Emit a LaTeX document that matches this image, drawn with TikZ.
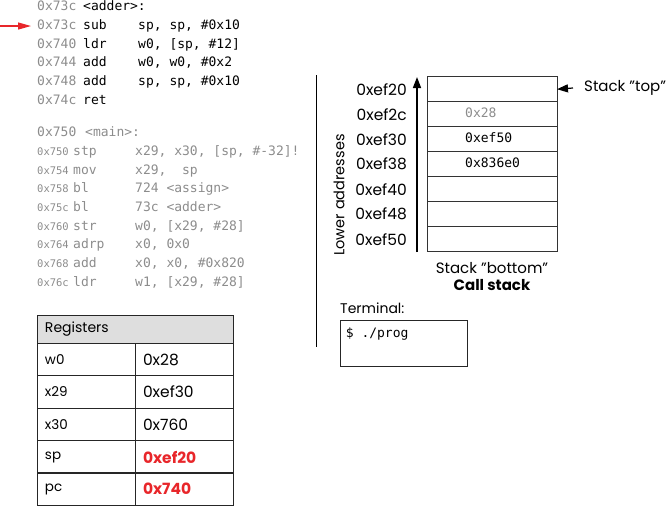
\documentclass[tikz,border=0pt]{standalone}
\usepackage{fontspec}
\setmainfont{Poppins}
\setmonofont{DejaVu Sans Mono}
\usetikzlibrary{arrows.meta,positioning}
\definecolor{addrgray}{HTML}{8C8C8C}
\definecolor{pcred}{HTML}{E8262A}
\definecolor{headgray}{HTML}{DEDEDE}
\tikzset{
  code/.style={font=\fontsize{13}{15}\selectfont\ttfamily, anchor=west, inner sep=0pt, text height=9pt, text depth=3pt},
  addr/.style={code, text=addrgray},
  smalladdr/.style={addr, font=\fontsize{10.5}{13}\selectfont\ttfamily},
  lbl/.style={font=\fontsize{14}{16}\selectfont, inner sep=0pt},
  stkaddr/.style={font=\fontsize{15.5}{17}\selectfont, inner sep=0pt},
  regcell/.style={draw=black!85, line width=0.7pt, minimum width=98pt, minimum height=32.5pt,
    text width=82pt, inner xsep=8pt, inner ysep=0pt, outer sep=0pt, align=left,
    font=\fontsize{13.5}{15}\selectfont},
  regval/.style={font=\fontsize{15.5}{17}\selectfont},
  regred/.style={text=pcred, font=\fontsize{15.5}{17}\selectfont\bfseries},
  stkcell/.style={draw=black!80, line width=0.6pt, minimum width=130pt, minimum height=25pt,
    inner sep=0pt, outer sep=0pt},
  stkval/.style={code, anchor=west},
  upar/.style={line width=1.6pt, -{Triangle[length=11pt,width=8pt]}},
  ptr/.style={line width=1.2pt, {Triangle[length=11pt,width=8pt]}-},
  pcptr/.style={line width=1.2pt, pcred, -{Triangle[length=13pt,width=7pt]}},
}
\begin{document}
\begin{tikzpicture}[x=1pt,y=-1pt]
  \useasboundingbox (0,0) rectangle (667,507);
  % adder listing
  \node[addr] (ah) at (37,7) {0x73c};
  \node[code] (ahn) at (83,7) {<adder>:};
  \foreach \yy/\ad/\mn/\op [count=\i] in {26/0x73c/sub/{sp, sp, \#0x10},
      45/0x740/ldr/{w0, [sp, \#12]}, 63.5/0x744/add/{w0, w0, \#0x2},
      82/0x748/add/{sp, sp, \#0x10}, 101/0x74c/ret/{}}{
    \node[addr] (aa\i) at (37,\yy) {\ad};
    \node[code] (am\i) at (83,\yy) {\mn};
    \node[code] (ao\i) at (138,\yy) {\op};
  }
  % current instruction
  \coordinate (pcfrom) at (0,26);
  \draw[pcptr, shorten >=6pt] (pcfrom) -- (aa1.west);
  % main listing
  \node[addr] (mh) at (37,133) {0x750};
  \node[addr] (mhn) at (85,133) {<main>:};
  \foreach \yy/\ad/\mn/\op [count=\i] in {152/0x750/stp/{x29, x30, [sp, \#-32]!},
      171/0x754/mov/{x29,\ \ sp}, 189/0x758/bl/{724 <assign>},
      208/0x75c/bl/{73c <adder>}, 227/0x760/str/{w0, [x29, \#28]},
      245/0x764/adrp/{x0, 0x0}, 264/0x768/add/{x0, x0, \#0x820},
      283/0x76c/ldr/{w1, [x29, \#28]}}{
    \node[smalladdr] (ma\i) at (37,\yy) {\ad};
    \node[addr] (mm\i) at (73,\yy) {\mn};
    \node[addr] (mo\i) at (135,\yy) {\op};
  }
  % registers
  \node[regcell, fill=headgray, minimum width=196pt, text width=180pt, minimum height=28pt,
    font=\fontsize{14}{16}\selectfont] (reghead) at (135,329) {Registers};
  \foreach \yy/\rn/\rv/\st [count=\i] in {359.5/w0/0x28/regval, 392/x29/0xef30/regval,
      424.5/x30/0x760/regval, 457/sp/0xef20/regred, 489/pc/0x740/regred}{
    \node[regcell] (rn\i) at (86,\yy) {\rn};
    \node[regcell, \st] (rv\i) at (184,\yy) {\rv};
  }
  % divider
  \coordinate (divtop) at (316,75);
  \coordinate (divbot) at (316,347);
  \draw[line width=0.9pt] (divtop) -- (divbot);
  % call stack
  \node[stkcell] (cell1) at (492,89.2) {};
  \foreach \i [count=\j from 1] in {2,...,7}{
    \node[stkcell, below=0pt of cell\j] (cell\i) {};
  }
  \foreach \i/\ad in {1/0xef20, 2/0xef2c, 3/0xef30, 4/0xef38, 5/0xef40, 6/0xef48, 7/0xef50}{
    \node[stkaddr, left=20pt of cell\i] (sa\i) {\ad};
  }
  \node[stkval, text=addrgray] (sv2) at ([xshift=38pt]cell2.west) {0x28};
  \node[stkval] (sv3) at ([xshift=38pt]cell3.west) {0xef50};
  \node[stkval] (sv4) at ([xshift=38pt]cell4.west) {0x836e0};
  \coordinate (arbot) at (417,252);
  \coordinate (artop) at (417,77);
  \draw[upar] (arbot) -- (artop);
  \node[lbl, rotate=90, font=\fontsize{14.5}{16}\selectfont] (lower) at (339,195) {Lower addresses};
  \node[lbl, anchor=west, font=\fontsize{15}{17}\selectfont] (sttop) at (584,88) {Stack ”top”};
  \draw[ptr] (cell1.east) -- ([xshift=-11pt]sttop.west);
  \node[lbl, below=10pt of cell7, font=\fontsize{15}{17}\selectfont] (stbot) {Stack ”bottom”};
  \node[lbl, below=6pt of stbot, font=\fontsize{15}{17}\selectfont\bfseries] (cstitle) {Call stack};
  % terminal
  \node[lbl, anchor=west] (termlbl) at (340,308) {Terminal:};
  \node[draw=black!85, line width=0.7pt, minimum width=127pt, minimum height=46pt, inner sep=0pt] (term) at (403.5,343) {};
  \node[code, anchor=north west] (prompt) at ([xshift=6pt,yshift=-9pt]term.north west) {\$ ./prog};
\end{tikzpicture}
\end{document}
